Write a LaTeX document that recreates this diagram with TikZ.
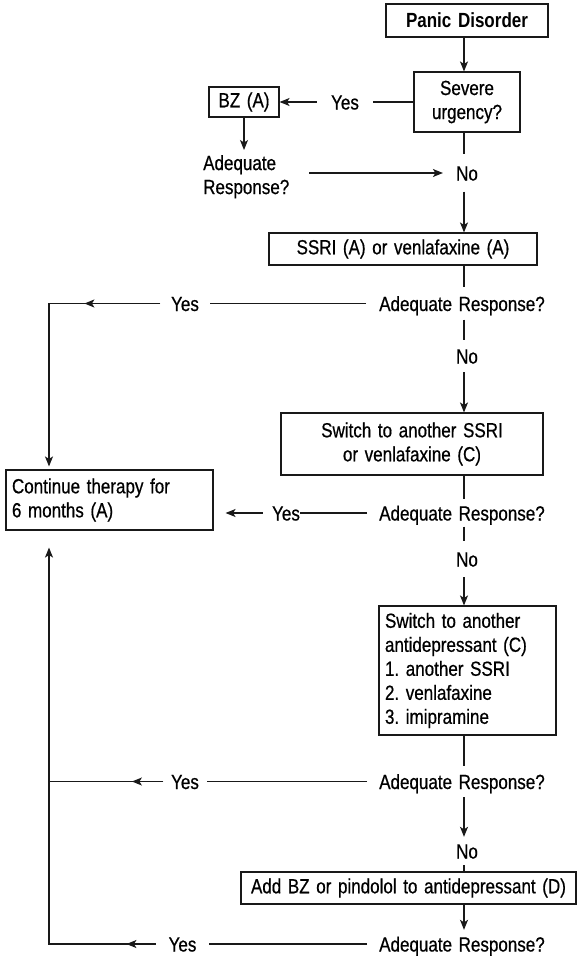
\documentclass[tikz,border=0pt]{standalone}
\usepackage{fontspec}
\setmainfont{Liberation Sans}[FakeStretch=0.83, WordSpace=1.4,
  UprightFeatures={FakeBold=0.6}]
\usetikzlibrary{arrows.meta,decorations.markings}
\frenchspacing
\begin{document}
\begin{tikzpicture}[x=1pt,y=-1pt,
  every node/.style={font=\fontsize{20.5}{24}\selectfont},
  line/.style={line width=1.1pt, draw=black!90},
  tip/.tip={Stealth[length=10pt,width=8pt,inset=2.5pt]},
  arr/.style={line, -tip},
  midarrow/.style={postaction={decorate},
    decoration={markings, mark=at position #1 with {\arrow{tip}}}},
  box/.style={draw=black!90, line width=1.1pt, inner sep=0pt},
  lbl/.style={inner xsep=0pt, text height=15pt, text depth=0pt}
]
\useasboundingbox (0,0) rectangle (577,958);
\coordinate (axis) at (464,0);
\coordinate (trunk) at (49,0);

% boxes
\node[box, minimum width=162pt, minimum height=33pt,
      font=\fontsize{20.5}{24}\selectfont\bfseries] (panic) at (467,20.5) {Panic Disorder};
\node[box, minimum width=106pt, minimum height=60pt, align=center] (sev) at (467,102) {Severe\\urgency?};
\node[box, minimum width=70pt, minimum height=30pt] (bz) at (244,102) {BZ (A)};
\node[box, minimum width=268pt, minimum height=32pt] (ssri) at (403,249) {SSRI (A) or venlafaxine (A)};
\node[box, minimum width=262pt, minimum height=62pt, align=center] (sw1) at (412,444)
  {Switch to another SSRI\\or venlafaxine (C)};
\node[box, inner xsep=6pt, text width=195pt, minimum height=60pt, align=flush left] (cont) at (109.5,500)
  {Continue therapy for\\6 months (A)};
\node[box, inner xsep=6pt, text width=165pt, minimum height=129pt, align=flush left] (sw2) at (467.5,670.5)
  {Switch to another\\antidepressant (C)\\1. another SSRI\\2. venlafaxine\\3. imipramine};
\node[box, minimum width=335pt, minimum height=32pt] (add) at (408.5,888)
  {Add BZ or pindolol to antidepressant (D)};

% decision labels
\node[lbl, inner xsep=14pt, inner ysep=0pt] (yes0) at (345,102) {Yes};
\node[inner sep=0pt, align=left, anchor=north west] (adq) at (203,155) {Adequate\\Response?};
\node[lbl, inner xsep=13pt, inner ysep=11pt] (no0) at (467,173) {No};

\node[lbl, inner xsep=13pt, inner ysep=8.5pt] (arq1) at (462,303.5) {Adequate Response?};
\node[lbl, inner xsep=10.5pt, inner ysep=0pt] (yes1) at (185,303.5) {Yes};
\node[lbl, inner xsep=0pt, inner ysep=8.5pt] (no1) at (467,356) {No};

\node[lbl, inner xsep=12pt, inner ysep=6pt] (arq2) at (462,513) {Adequate Response?};
\node[lbl, inner xsep=0pt, inner ysep=0pt] (yes2) at (286,513) {Yes};
\node[lbl, inner xsep=0pt, inner ysep=10.5pt] (no2) at (467,559) {No};

\node[lbl, inner xsep=12pt, inner ysep=8pt] (arq3) at (462,781.5) {Adequate Response?};
\node[lbl, inner xsep=7.5pt, inner ysep=0pt] (yes3) at (185,781.5) {Yes};
\node[lbl, inner xsep=0pt, inner ysep=6.5pt] (no3) at (467,851) {No};

\node[lbl, inner xsep=12pt, inner ysep=6.5pt] (arq4) at (462,944) {Adequate Response?};
\node[lbl, inner xsep=12.5pt, inner ysep=0pt] (yes4) at (182.5,944) {Yes};

% main column
\draw[arr] (panic.south -| axis) -- (sev.north -| axis);
\draw[line] (sev.south -| axis) -- (no0.north -| axis);
\draw[arr] (no0.south -| axis) -- (ssri.north -| axis);
\draw[line] (ssri.south -| axis) -- (arq1.north -| axis);
\draw[line] (arq1.south -| axis) -- (no1.north -| axis);
\draw[arr] (no1.south -| axis) -- (sw1.north -| axis);
\draw[line] (sw1.south -| axis) -- (arq2.north -| axis);
\draw[line] (arq2.south -| axis) -- (no2.north -| axis);
\draw[arr] (no2.south -| axis) -- (sw2.north -| axis);
\draw[line] (sw2.south -| axis) -- (arq3.north -| axis);
\draw[arr] (arq3.south -| axis) -- (no3.north -| axis);
\draw[line] (no3.south -| axis) -- (add.north -| axis);
\draw[arr] (add.south -| axis) -- (arq4.north -| axis);

% severe urgency branch
\draw[line] (sev.west) -- (yes0.east);
\draw[arr] (yes0.west) -- (bz.east);
\draw[arr, shorten >=5pt] (bz.south) -- (bz.south |- adq.north);
\draw[arr, shorten <=20pt] (adq.east |- no0.west) -- (no0.west);

% yes branches to continued therapy
\draw[line] (arq1.west) -- (yes1.east);
\draw[arr, midarrow=76pt, shorten >=3pt] (yes1.west) -- (yes1.west -| trunk) -- (cont.north -| trunk);
\draw[line] (arq2.west) -- (yes2.east);
\draw[arr, shorten <=9pt, shorten >=12pt] (yes2.west) -- (cont.east |- yes2.west);
\draw[line] (arq3.west) -- (yes3.east);
\draw[line, midarrow=31.5pt] (yes3.west) -- (yes3.west -| trunk);
\draw[line] (arq4.west) -- (yes4.east);
\draw[arr, midarrow=29.5pt, shorten >=17pt] (yes4.west) -- (yes4.west -| trunk) -- (cont.south -| trunk);
\end{tikzpicture}
\end{document}
